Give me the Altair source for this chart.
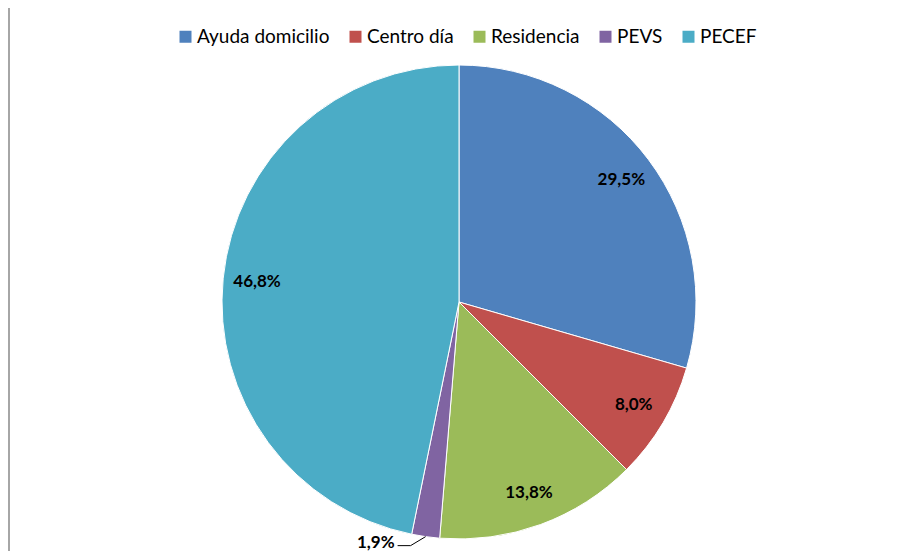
import altair as alt
import pandas as pd

categories = ["Ayuda domicilio", "Centro día", "Residencia", "PEVS", "PECEF"]
values = [29.5, 8.0, 13.8, 1.9, 46.8]
colors = ["#4F81BD", "#C0504D", "#9BBB59", "#8064A2", "#4BACC6"]

df = pd.DataFrame({"cat": categories, "value": values, "order": list(range(len(categories)))})

CX, CY, R = 451, 294, 237
FONT = "Lato"

label_expr = "replace(format(datum.value, '.1f'), '.', ',') + '%'"

base = alt.Chart(df).encode(
    theta=alt.Theta("value:Q", stack=True),
    order=alt.Order("order:Q"),
)

pie = base.mark_arc(outerRadius=R, stroke="white", strokeWidth=1).encode(
    x=alt.value(CX),
    y=alt.value(CY),
    color=alt.Color(
        "cat:N",
        sort=categories,
        scale=alt.Scale(domain=categories, range=colors),
        legend=alt.Legend(
            orient="none", legendX=168, legendY=19, direction="horizontal",
            columns=5, symbolType="square", symbolSize=144, symbolStrokeWidth=0,
            labelFont=FONT, labelFontSize=19, labelColor="black",
            columnPadding=16, labelOffset=2, title=None,
        ),
    ),
)

inner_labels = base.transform_calculate(
    label=f"datum.value >= 5 ? {label_expr} : ''"
).mark_text(font=FONT, fontSize=17, fontWeight="bold", color="black").encode(
    x=alt.value(CX), y=alt.value(CY), radius=alt.value(203), text="label:N"
)

small = alt.Chart(df).transform_window(
    cum="sum(value)", sort=[alt.SortField("order")]
).transform_joinaggregate(total="sum(value)").transform_filter(
    "datum.value < 5"
).transform_calculate(
    mid="2*PI*(datum.cum - datum.value/2)/datum.total",
    label=label_expr,
).transform_calculate(
    ex=f"{CX} + {R}*sin(datum.mid)",
    ey=f"{CY} - {R}*cos(datum.mid)",
).transform_calculate(
    bx="datum.ex - 15", by="datum.ey + 9",
).transform_calculate(
    tx="datum.bx - 13", txt="datum.bx - 16", ty="datum.by + 2",
)

leader1 = small.mark_rule(color="black", strokeWidth=1).encode(
    x=alt.X("ex:Q", scale=None, axis=None), y=alt.Y("ey:Q", scale=None, axis=None),
    x2="bx:Q", y2="by:Q",
)
leader2 = small.mark_rule(color="black", strokeWidth=1).encode(
    x=alt.X("bx:Q", scale=None, axis=None), y=alt.Y("by:Q", scale=None, axis=None),
    x2="tx:Q", y2="by:Q",
)
small_text = small.mark_text(
    font=FONT, fontSize=17, fontWeight="bold", color="black", align="right", baseline="alphabetic"
).encode(
    x=alt.X("txt:Q", scale=None, axis=None), y=alt.Y("ty:Q", scale=None, axis=None), text="label:N"
)

border = alt.Chart(pd.DataFrame({"k": [0]})).mark_rule(color="#a6a6a6", strokeWidth=2).encode(
    x=alt.value(1), y=alt.value(0), y2=alt.value(543)
)

chart = alt.layer(border, pie, inner_labels, leader1, leader2, small_text).properties(
    width=897, height=543, autosize=alt.AutoSizeParams(type="none"), padding=0
).configure_view(stroke=None)

chart.save("out.html", embed_options={"renderer": "svg", "actions": False})
